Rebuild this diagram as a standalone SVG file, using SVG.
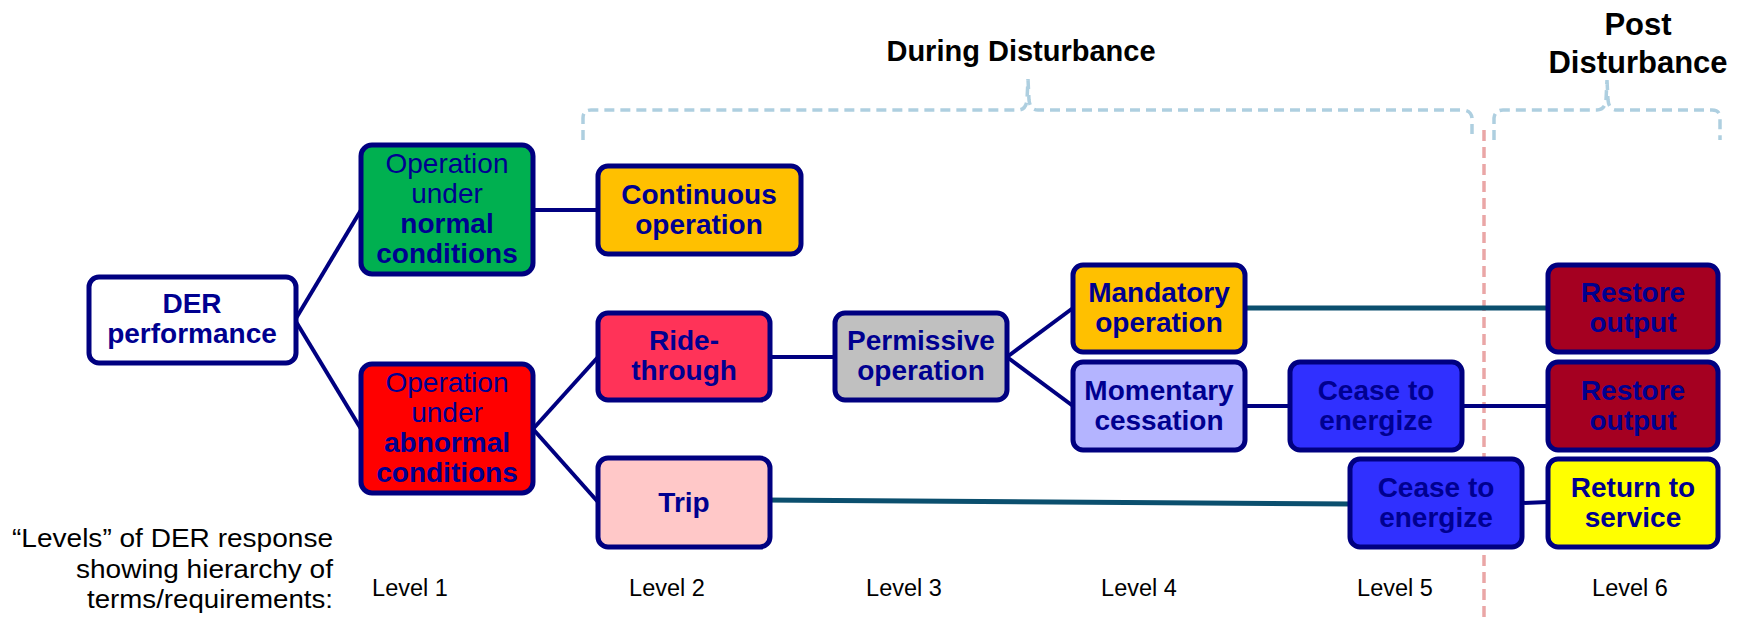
<svg xmlns="http://www.w3.org/2000/svg" width="1747" height="618" viewBox="0 0 1747 618">
<style>
  .box { stroke: #000080; stroke-width: 5; }
  .t { font-family: "Liberation Sans", Arial, sans-serif; font-size: 28px; fill: #000090; text-anchor: middle; }
  .b { font-weight: bold; }
  .hdr { font-family: "Liberation Sans", Arial, sans-serif; font-weight: bold; fill: #000000; text-anchor: middle; }
  .lvl { font-family: "Liberation Sans", Arial, sans-serif; font-size: 23.5px; fill: #000000; text-anchor: middle; }
  .note { font-family: "Liberation Sans", Arial, sans-serif; font-size: 25px; fill: #000000; text-anchor: end; }
  .navy { stroke: #000080; stroke-width: 4; fill: none; }
  .teal { stroke: #0b4f6e; stroke-width: 5; fill: none; }
  .brace { stroke: #aecfe0; stroke-width: 3.5; fill: none; stroke-dasharray: 10 6; }
  .sep { stroke: #eaa6a6; stroke-width: 3.5; fill: none; stroke-dasharray: 11 6; }
</style>

<!-- headers and braces -->
<g id="headers">
  <text class="hdr" x="1021" y="61" font-size="29">During Disturbance</text>
  <text class="hdr" x="1638" y="35" font-size="31">Post</text>
  <text class="hdr" x="1638" y="73" font-size="31">Disturbance</text>
  <path class="brace" d="M583,140 L583,118 Q583,110 591,110 L1018,110 Q1026,110 1027,100 L1028,79 M1028,79 L1029,100 Q1030,110 1038,110 L1462,110 Q1471,110 1472,118 L1472,140"/>
  <path class="brace" d="M1494,140 L1494,118 Q1495,110 1503,110 L1597,110 Q1605,110 1606,100 L1607,80 M1607,80 L1608,100 Q1609,110 1617,110 L1712,110 Q1720,110 1720,118 L1720,140"/>
  <line class="sep" x1="1484" y1="130" x2="1484" y2="618"/>
</g>

<!-- connectors -->
<g id="connectors">
  <line class="navy" x1="295" y1="320" x2="361" y2="210"/>
  <line class="navy" x1="295" y1="320" x2="361" y2="429"/>
  <line class="navy" x1="533" y1="210" x2="598" y2="210"/>
  <line class="navy" x1="533" y1="429" x2="598" y2="357"/>
  <line class="navy" x1="533" y1="429" x2="598" y2="502"/>
  <line class="navy" x1="770" y1="357" x2="835" y2="357"/>
  <line class="navy" x1="1007" y1="357" x2="1073" y2="308"/>
  <line class="navy" x1="1007" y1="357" x2="1073" y2="406"/>
  <line class="navy" x1="1245" y1="406" x2="1290" y2="406"/>
  <line class="navy" x1="1462" y1="406" x2="1548" y2="406"/>
  <line class="navy" x1="1522" y1="503" x2="1548" y2="502"/>
  <line class="teal" x1="1233" y1="308" x2="1548" y2="308"/>
  <line class="teal" x1="763" y1="500" x2="1352" y2="504"/>
</g>

<g id="der">
  <rect class="box" x="89" y="277" width="207" height="86" rx="10" fill="#ffffff"/>
  <text class="t b" x="192" y="313">DER</text>
  <text class="t b" x="192" y="343">performance</text>
</g>

<g id="normal">
  <rect class="box" x="361" y="145" width="172" height="129" rx="11" fill="#00b050"/>
  <text class="t" x="447" y="173">Operation</text>
  <text class="t" x="447" y="203">under</text>
  <text class="t b" x="447" y="233">normal</text>
  <text class="t b" x="447" y="263">conditions</text>
</g>

<g id="abnormal">
  <rect class="box" x="361" y="364" width="172" height="129" rx="11" fill="#ff0000"/>
  <text class="t" x="447" y="392">Operation</text>
  <text class="t" x="447" y="422">under</text>
  <text class="t b" x="447" y="452">abnormal</text>
  <text class="t b" x="447" y="482">conditions</text>
</g>

<g id="continuous">
  <rect class="box" x="598" y="166" width="203" height="88" rx="10" fill="#ffc000"/>
  <text class="t b" x="699" y="204">Continuous</text>
  <text class="t b" x="699" y="234">operation</text>
</g>

<g id="ridethrough">
  <rect class="box" x="598" y="313" width="172" height="87" rx="10" fill="#ff3358"/>
  <text class="t b" x="684" y="350">Ride-</text>
  <text class="t b" x="684" y="380">through</text>
</g>

<g id="trip">
  <rect class="box" x="598" y="458" width="172" height="89" rx="10" fill="#ffc8c8"/>
  <text class="t b" x="684" y="512">Trip</text>
</g>

<g id="permissive">
  <rect class="box" x="835" y="313" width="172" height="87" rx="10" fill="#c0c0c0"/>
  <text class="t b" x="921" y="350">Permissive</text>
  <text class="t b" x="921" y="380">operation</text>
</g>

<g id="mandatory">
  <rect class="box" x="1073" y="265" width="172" height="87" rx="10" fill="#ffc000"/>
  <text class="t b" x="1159" y="302">Mandatory</text>
  <text class="t b" x="1159" y="332">operation</text>
</g>

<g id="momentary">
  <rect class="box" x="1073" y="362" width="172" height="88" rx="10" fill="#b4b4ff"/>
  <text class="t b" x="1159" y="400">Momentary</text>
  <text class="t b" x="1159" y="430">cessation</text>
</g>

<g id="cease1">
  <rect class="box" x="1290" y="362" width="172" height="88" rx="10" fill="#3030ff"/>
  <text class="t b" x="1376" y="400">Cease to</text>
  <text class="t b" x="1376" y="430">energize</text>
</g>

<g id="cease2">
  <rect class="box" x="1350" y="459" width="172" height="88" rx="10" fill="#3030ff"/>
  <text class="t b" x="1436" y="497">Cease to</text>
  <text class="t b" x="1436" y="527">energize</text>
</g>

<g id="restore1">
  <rect class="box" x="1548" y="265" width="170" height="87" rx="10" fill="#a50021"/>
  <text class="t b" x="1633" y="302">Restore</text>
  <text class="t b" x="1633" y="332">output</text>
</g>

<g id="restore2">
  <rect class="box" x="1548" y="362" width="170" height="88" rx="10" fill="#a50021"/>
  <text class="t b" x="1633" y="400">Restore</text>
  <text class="t b" x="1633" y="430">output</text>
</g>

<g id="return">
  <rect class="box" x="1548" y="459" width="170" height="88" rx="10" fill="#ffff00"/>
  <text class="t b" x="1633" y="497">Return to</text>
  <text class="t b" x="1633" y="527">service</text>
</g>

<g id="levels">
  <text class="note" x="333" y="547" textLength="321" lengthAdjust="spacingAndGlyphs">“Levels” of DER response</text>
  <text class="note" x="333" y="578" textLength="257" lengthAdjust="spacingAndGlyphs">showing hierarchy of</text>
  <text class="note" x="333" y="608" textLength="246" lengthAdjust="spacingAndGlyphs">terms/requirements:</text>
  <text class="lvl" x="410" y="596">Level 1</text>
  <text class="lvl" x="667" y="596">Level 2</text>
  <text class="lvl" x="904" y="596">Level 3</text>
  <text class="lvl" x="1139" y="596">Level 4</text>
  <text class="lvl" x="1395" y="596">Level 5</text>
  <text class="lvl" x="1630" y="596">Level 6</text>
</g>
</svg>
